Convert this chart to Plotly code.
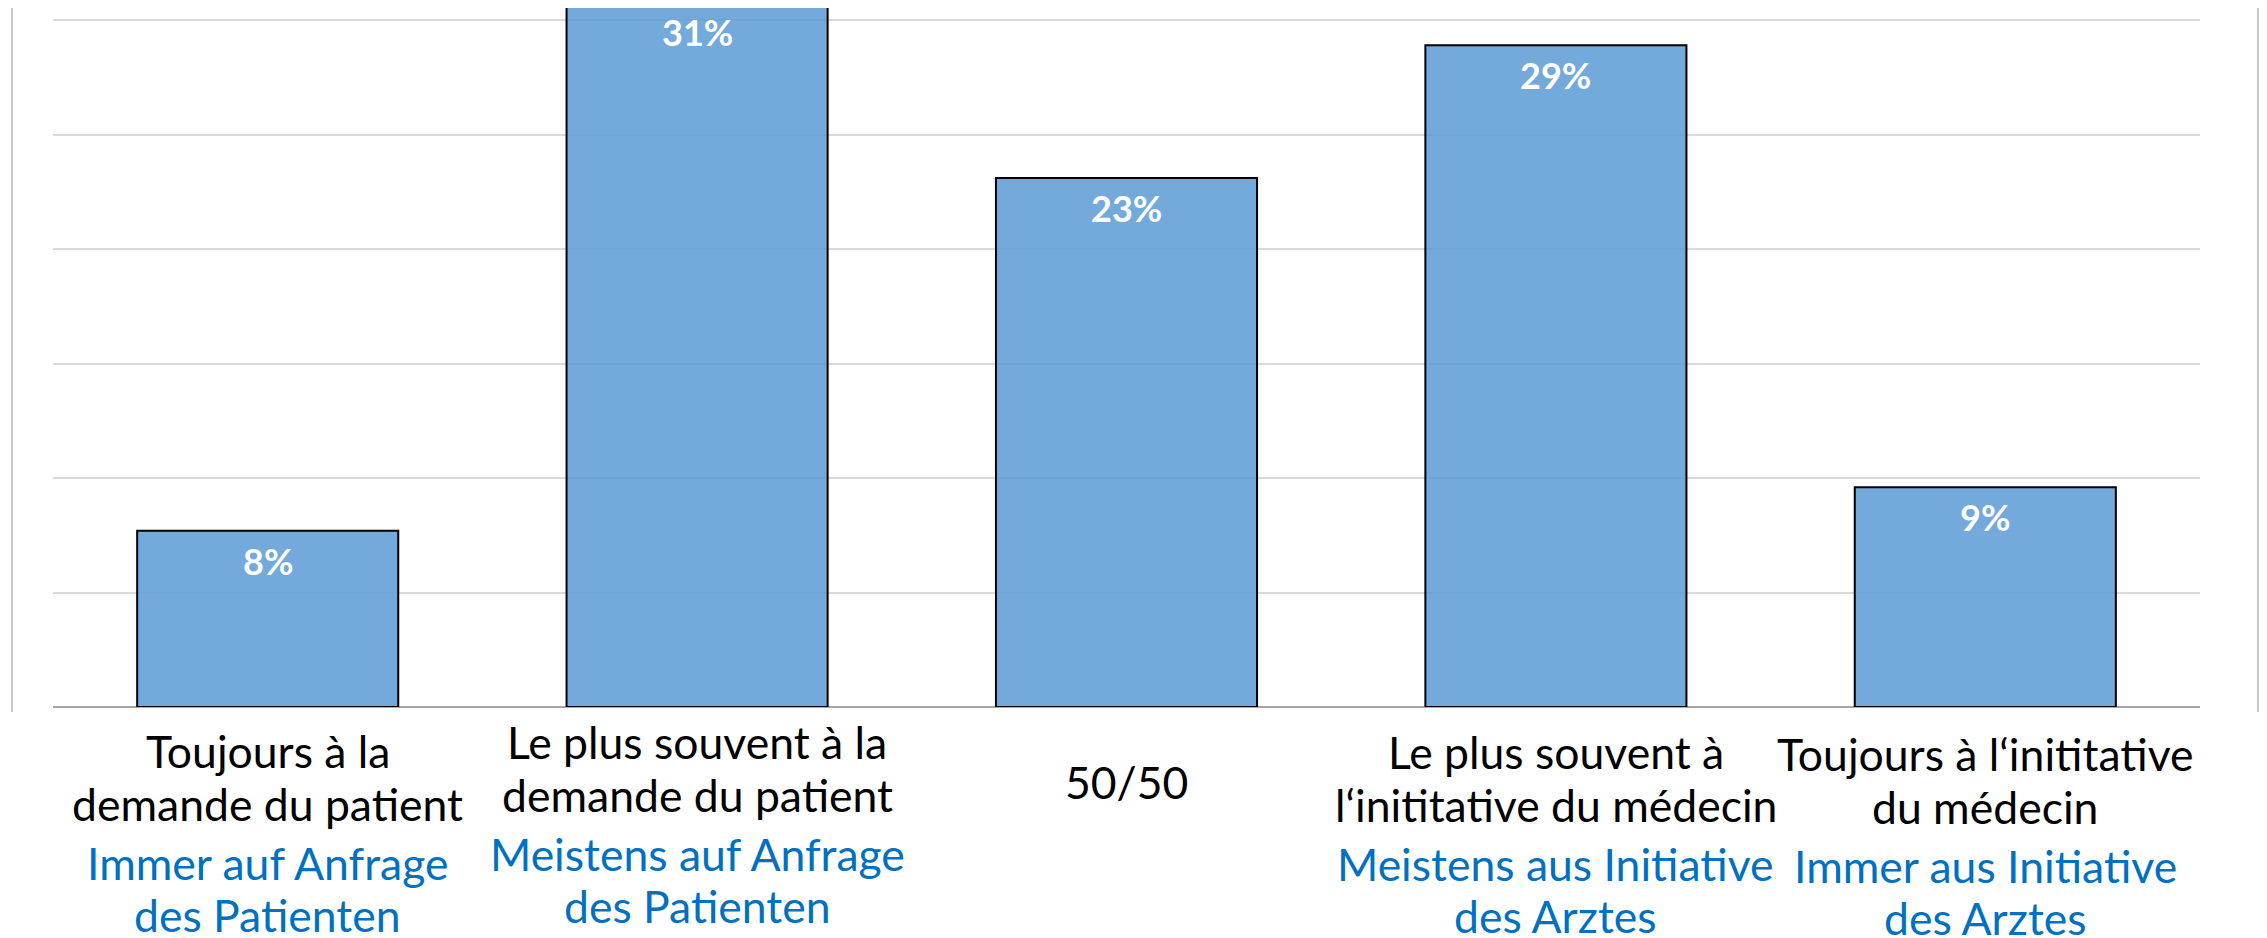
import plotly.graph_objects as go

# ---- data ----
categories = ["cat1", "cat2", "cat3", "cat4", "cat5"]
values = [7.7, 30.8, 23.1, 28.9, 9.6]          # bar heights (%)
value_labels = ["8%", "31%", "23%", "29%", "9%"]
labels_fr = [
    ["Toujours à la", "demande du patient"],
    ["Le plus souvent à la", "demande du patient"],
    ["50/50"],
    ["Le plus souvent à", "l‘inititative du médecin"],
    ["Toujours à l‘inititative", "du médecin"],
]
labels_de = [
    ["Immer auf Anfrage", "des Patienten"],
    ["Meistens auf Anfrage", "des Patienten"],
    [],
    ["Meistens aus Initiative", "des Arztes"],
    ["Immer aus Initiative", "des Arztes"],
]

# page is rendered with an 8px body margin -> work in page pixels and convert
OFF = 8
PAGE_W, PAGE_H = 2267, 938
W, H = PAGE_W - OFF, PAGE_H - OFF
PLOT_LEFT, PLOT_RIGHT = 53, 2200      # page px
PLOT_TOP, PLOT_BOT = OFF, 707         # page px
L = PLOT_LEFT - OFF
R = PAGE_W - PLOT_RIGHT
T = PLOT_TOP - OFF
B = PAGE_H - PLOT_BOT
PLOT_H = PLOT_BOT - PLOT_TOP
PLOT_W = PLOT_RIGHT - PLOT_LEFT
PX_PER_UNIT = 114.5 / 5
YMAX = PLOT_H / PX_PER_UNIT
FONT = "Lato"

def py2paper(py):
    return (PLOT_BOT - py) / PLOT_H

def px2paper(px):
    return (px - PLOT_LEFT) / PLOT_W

fig = go.Figure()
fig.add_trace(go.Bar(
    x=categories, y=values,
    marker=dict(color="rgba(91,155,213,0.85)", line=dict(color="black", width=2)),
    width=0.608,
    hoverinfo="skip",
))

annotations = []
# value labels inside bars
for c, v, t in zip(categories, values, value_labels):
    yv = min(v, YMAX)
    shift = -30 + (v - yv) * PX_PER_UNIT
    annotations.append(dict(
        x=c, y=yv, xref="x", yref="y", text="<b>%s</b>" % t, showarrow=False,
        yanchor="middle", yshift=shift,
        font=dict(family=FONT, size=36, color="white"),
    ))

# category labels below axis (page px line centres)
fr_y = [750, 803]
de_y = [862, 914]
cat_shift = [0, -9, 0, 1, 3]
for i, c in enumerate(categories):
    fr = labels_fr[i]
    de = labels_de[i]
    if len(fr) == 1 and not de:
        ys = [781]
        lines = [(fr[0], "black")]
    else:
        lines = [(s, "black") for s in fr] + [(s, "#0070C0") for s in de]
        ys = [y + cat_shift[i] for y in fr_y[:len(fr)]] + [y + cat_shift[i] for y in de_y[:len(de)]]
    for (s, col), yy in zip(lines, ys):
        annotations.append(dict(
            x=c, y=py2paper(yy), xref="x", yref="paper", text=s, showarrow=False,
            yanchor="middle", xanchor="center",
            font=dict(family=FONT, size=44.5, color=col),
        ))

shapes = [
    dict(type="line", xref="paper", yref="paper",
         x0=px2paper(12), x1=px2paper(12), y0=py2paper(OFF), y1=py2paper(712),
         line=dict(color="#c8c8c8", width=2)),
    dict(type="line", xref="paper", yref="paper",
         x0=px2paper(2258), x1=px2paper(2258), y0=py2paper(OFF), y1=py2paper(712),
         line=dict(color="#c8c8c8", width=2)),
]

fig.update_layout(
    width=W, height=H,
    margin=dict(l=L, r=R, t=T, b=B, pad=0),
    paper_bgcolor="white", plot_bgcolor="white",
    showlegend=False,
    bargap=0.392,
    annotations=annotations,
    shapes=shapes,
    xaxis=dict(showticklabels=False, showgrid=False, zeroline=False, showline=False,
               ticks="", range=[-0.5, 4.5]),
    yaxis=dict(range=[0, YMAX], dtick=5, showticklabels=False, ticks="",
               showgrid=True, gridcolor="#d9d9d9", gridwidth=1.5,
               zeroline=True, zerolinecolor="#a6a6a6", zerolinewidth=1.5,
               showline=False),
)

fig.write_html("out.html")
